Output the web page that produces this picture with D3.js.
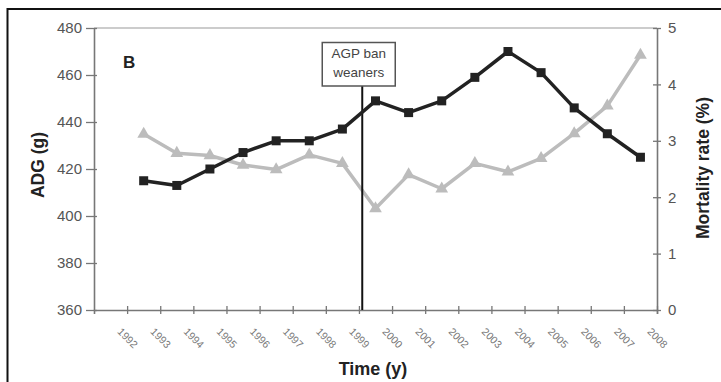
<!DOCTYPE html>
<html>
<head>
<meta charset="utf-8">
<script src="https://cdn.jsdelivr.net/npm/d3@7"></script>
<style>
  html, body { margin: 0; padding: 0; background: #fff; }
  svg { display: block; font-family: Arial, "Liberation Sans", sans-serif; }
</style>
</head>
<body>
<svg id="chart" width="721" height="382"></svg>
<script>
// Year labels on the time axis (ticks mark the start of each year)
const tickYears = [1992, 1993, 1994, 1995, 1996, 1997, 1998, 1999, 2000,
                   2001, 2002, 2003, 2004, 2005, 2006, 2007, 2008];
// Observation years (each value sits mid-year)
const years = [1992, 1993, 1994, 1995, 1996, 1997, 1998, 1999,
               2000, 2001, 2002, 2003, 2004, 2005, 2006, 2007];
// Average daily gain, g
const adg = [415, 413, 420, 427, 432, 432, 437, 449,
             444, 449, 459, 470, 461, 446, 435, 425];
// Mortality rate, %
const mortality = [3.12, 2.78, 2.74, 2.57, 2.49, 2.75, 2.6, 1.8,
                   2.4, 2.15, 2.6, 2.45, 2.69, 3.13, 3.62, 4.52];
const adgTicks = [360, 380, 400, 420, 440, 460, 480];
const mortTicks = [0, 1, 2, 3, 4, 5];
const banYear = 1999.1;
const banLabel = ["AGP ban", "weaners"];

const svg = d3.select("#chart");
const plotLeft = 94, plotRight = 657, plotTop = 28, plotBottom = 310;

const x = d3.scaleLinear().domain([1991, 2008]).range([plotLeft, plotRight]);
const yL = d3.scaleLinear().domain([360, 480]).range([plotBottom, plotTop]);
const yR = d3.scaleLinear().domain([0, 5]).range([plotBottom, plotTop]);

// Figure frame (top and left rules)
svg.append("line").attr("x1", 7).attr("x2", 721).attr("y1", 9).attr("y2", 9)
  .attr("stroke", "#111").attr("stroke-width", 2);
svg.append("line").attr("x1", 7.5).attr("x2", 7.5).attr("y1", 8).attr("y2", 382)
  .attr("stroke", "#111").attr("stroke-width", 2);

// Plot area top edge
svg.append("line").attr("x1", plotLeft).attr("x2", plotRight).attr("y1", plotTop).attr("y2", plotTop)
  .attr("stroke", "#bbb").attr("stroke-width", 1.5);

const axisColor = "#777";
const labelColor = "#555";
const fontStack = "Arial, 'Liberation Sans', sans-serif";

// Left axis
const gL = svg.append("g").attr("transform", `translate(${plotLeft},0)`)
  .call(d3.axisLeft(yL).tickValues(adgTicks).tickSizeInner(8).tickSizeOuter(0).tickPadding(4));
gL.selectAll(".tick line").attr("x2", -8).attr("x1", 3);
// Right axis
const gR = svg.append("g").attr("transform", `translate(${plotRight},0)`)
  .call(d3.axisRight(yR).tickValues(mortTicks).tickFormat(d3.format("d"))
    .tickSizeInner(4).tickSizeOuter(0).tickPadding(7));
gR.selectAll(".tick line").attr("x1", -4).attr("x2", 4);
// Bottom axis
const gB = svg.append("g").attr("transform", `translate(0,${plotBottom})`)
  .call(d3.axisBottom(x).tickValues(tickYears).tickFormat(d3.format("d")).tickSizeOuter(0).tickSize(4));
gB.selectAll(".tick line").attr("y1", -4).attr("y2", 4);
gB.selectAll(".tick text")
  .attr("text-anchor", "middle")
  .attr("dy", "0.35em").attr("y", 0)
  .attr("transform", "translate(0,28) rotate(45)")
  .attr("font-size", 10.5).attr("fill", "#777");

[gL, gR, gB].forEach(g => {
  g.select(".domain").attr("stroke", axisColor).attr("stroke-width", 1.6);
  g.selectAll(".tick line").attr("stroke", axisColor).attr("stroke-width", 1.3);
  g.selectAll(".tick text").attr("font-family", fontStack);
});
[gL, gR].forEach(g => g.selectAll(".tick text")
  .attr("font-size", 15).attr("fill", labelColor));

// Axis titles
svg.append("text").attr("transform", `translate(44,165) rotate(-90)`)
  .attr("text-anchor", "middle").attr("font-weight", "bold").attr("font-size", 17.5)
  .attr("fill", "#222").text("ADG (g)");
svg.append("text").attr("transform", `translate(709,168) rotate(-90)`)
  .attr("text-anchor", "middle").attr("font-weight", "bold").attr("font-size", 17.5)
  .attr("fill", "#222").text("Mortality rate (%)");
svg.append("text").attr("x", 373).attr("y", 375)
  .attr("text-anchor", "middle").attr("font-weight", "bold").attr("font-size", 18)
  .attr("fill", "#222").text("Time (y)");

// Panel letter
svg.append("text").attr("x", 123).attr("y", 68).attr("font-weight", "bold")
  .attr("font-size", 17).attr("fill", "#222").text("B");

// Mortality series (grey, triangles)
const mortData = years.map((yr, i) => ({ yr, v: mortality[i] }));
svg.append("path").datum(mortData)
  .attr("fill", "none").attr("stroke", "#bcbcbc").attr("stroke-width", 3.5)
  .attr("stroke-linejoin", "round")
  .attr("d", d3.line().x(d => x(d.yr + 0.5)).y(d => yR(d.v)));
svg.selectAll(".tri").data(mortData).enter().append("path")
  .attr("class", "tri")
  .attr("transform", d => `translate(${x(d.yr + 0.5)},${yR(d.v)})`)
  .attr("d", d3.symbol(d3.symbolTriangle, 70)())
  .attr("fill", "#bcbcbc");

// Ban marker line and label box
svg.append("line").attr("x1", x(banYear)).attr("x2", x(banYear))
  .attr("y1", 86).attr("y2", plotBottom)
  .attr("stroke", "#111").attr("stroke-width", 2);
svg.append("rect").attr("x", x(banYear) - 40).attr("y", 42.5).attr("width", 73).attr("height", 43.5)
  .attr("fill", "#fff").attr("stroke", "#555").attr("stroke-width", 1.5);
svg.append("text").attr("x", x(banYear) - 3.5).attr("y", 58).attr("text-anchor", "middle")
  .attr("font-size", 13.5).attr("fill", "#444").text(banLabel[0]);
svg.append("text").attr("x", x(banYear) - 3.5).attr("y", 77).attr("text-anchor", "middle")
  .attr("font-size", 13.5).attr("fill", "#444").text(banLabel[1]);

// ADG series (black, squares)
const adgData = years.map((yr, i) => ({ yr, v: adg[i] }));
svg.append("path").datum(adgData)
  .attr("fill", "none").attr("stroke", "#222").attr("stroke-width", 3.5)
  .attr("stroke-linejoin", "round")
  .attr("d", d3.line().x(d => x(d.yr + 0.5)).y(d => yL(d.v)));
svg.selectAll(".sq").data(adgData).enter().append("rect")
  .attr("class", "sq")
  .attr("x", d => x(d.yr + 0.5) - 4.5).attr("y", d => yL(d.v) - 4.5)
  .attr("width", 9).attr("height", 9)
  .attr("fill", "#222");
</script>
</body>
</html>
